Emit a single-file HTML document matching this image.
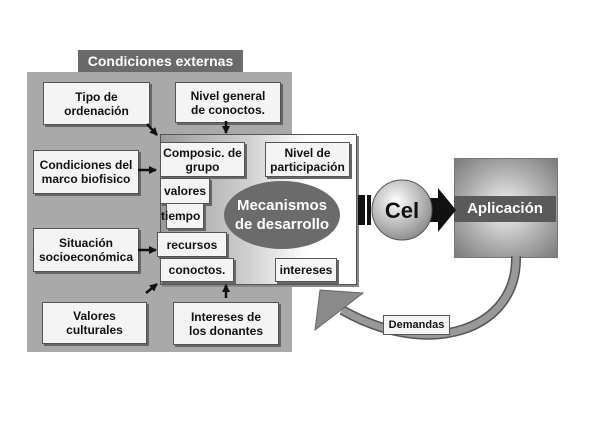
<!DOCTYPE html>
<html><head><style>
body{margin:0;background:#fff;}
#c{position:relative;width:600px;height:430px;overflow:hidden;font-family:"Liberation Sans",Arial,sans-serif;}
.b{position:absolute;background:#f4f4f4;border:1px solid #555;box-shadow:2px 2px 0 #666;font-weight:bold;font-size:12px;text-align:center;line-height:14px;display:flex;align-items:center;justify-content:center;color:#111;}
</style></head><body><div id="c">
<div style="position:absolute;left:27px;top:72px;width:265px;height:280px;background:#a9a9a9;"></div>
<div style="position:absolute;left:78px;top:50px;width:165px;height:22px;background:#6a6a6a;color:#fff;font-weight:bold;font-size:14px;line-height:22px;text-align:center;">Condiciones externas</div>
<div style="position:absolute;left:160px;top:134px;width:195px;height:149px;background:linear-gradient(90deg,#9a9a9a 0%,#d0d0d0 45%,#fff 75%);border:1px solid #555;box-shadow:2px 2px 0 #888;"></div>
<div class="b" style="left:43px;top:82px;width:105px;height:41px;">Tipo de<br>ordenación</div>
<div class="b" style="left:175px;top:82px;width:104px;height:39px;">Nivel general<br>de conoctos.</div>
<div class="b" style="left:33px;top:150px;width:104px;height:42px;">Condiciones del<br>marco biofisico</div>
<div class="b" style="left:33px;top:228px;width:104px;height:42px;">Situación<br>socioeconómica</div>
<div class="b" style="left:42px;top:302px;width:103px;height:40px;">Valores<br>culturales</div>
<div class="b" style="left:173px;top:302px;width:104px;height:41px;">Intereses de<br>los donantes</div>
<div class="b" style="left:160px;top:142px;width:83px;height:33px;">Composic. de<br>grupo</div>
<div class="b" style="left:265px;top:142px;width:83px;height:33px;">Nivel de<br>participación</div>
<div class="b" style="left:160px;top:178px;width:48px;height:24px;">valores</div>
<div class="b" style="left:166px;top:203px;width:36px;height:24px;justify-content:flex-start;text-indent:-6px;">tiempo</div>
<div class="b" style="left:157px;top:232px;width:68px;height:23px;">recursos</div>
<div class="b" style="left:160px;top:258px;width:72px;height:22px;">conoctos.</div>
<div class="b" style="left:275px;top:258px;width:60px;height:22px;">intereses</div>
<div style="position:absolute;left:224px;top:181px;width:116px;height:68px;border-radius:50%;background:#6b6b6b;color:#fff;font-weight:bold;font-size:15px;line-height:19px;text-align:center;display:flex;align-items:center;justify-content:center;">Mecanismos<br>de desarrollo</div>
<div style="position:absolute;left:454px;top:158px;width:102px;height:98px;background:radial-gradient(ellipse at 50% 50%,#f4f4f4 0%,#b5b5b5 50%,#7a7a7a 100%);border:1px solid #777;"></div>
<div style="position:absolute;left:454px;top:196px;width:102px;height:26px;background:#5a5a5a;color:#fff;font-weight:bold;font-size:15px;line-height:26px;text-align:center;">Aplicación</div>
<svg style="position:absolute;left:0;top:0" width="600" height="430">
<defs><radialGradient id="g" cx="40%" cy="35%" r="70%"><stop offset="0" stop-color="#fff"/><stop offset="1" stop-color="#888"/></radialGradient>
<marker id="a" markerUnits="userSpaceOnUse" markerWidth="8" markerHeight="8" refX="7" refY="4" orient="auto"><path d="M0,0L8,4L0,8z" fill="#111"/></marker></defs>
<g stroke="#111" stroke-width="2.5" marker-end="url(#a)">
<line x1="147" y1="124" x2="157" y2="135"/>
<line x1="226" y1="121" x2="226" y2="133"/>
<line x1="138" y1="170" x2="156" y2="170"/>
<line x1="138" y1="250" x2="156" y2="250"/>
<line x1="146" y1="293" x2="157" y2="284"/>
<line x1="226" y1="298" x2="226" y2="285"/>
</g>
<rect x="358" y="195" width="7" height="30" fill="#111"/>
<rect x="367" y="195" width="4" height="30" fill="#111"/>
<path d="M428,198 L438,198 L438,188 L456,210 L438,232 L438,222 L428,222 z" fill="#111"/>
<circle cx="402" cy="210" r="30" fill="url(#g)" stroke="#555"/>
<text x="402" y="218" text-anchor="middle" font-family="Liberation Sans,Arial,sans-serif" font-weight="bold" font-size="22" fill="#111">Cel</text>
<path d="M516,256 C518,330 430,360 342,310" fill="none" stroke="#555" stroke-width="10"/>
<path d="M516,256 C518,330 430,360 342,310" fill="none" stroke="#999" stroke-width="7"/>
<polygon points="320,290 363,293 315,330" fill="#8a8a8a" stroke="#666"/>
</svg>
<div class="b" style="left:383px;top:315px;width:65px;height:18px;font-size:11px;box-shadow:none;">Demandas</div>
</div></body></html>
